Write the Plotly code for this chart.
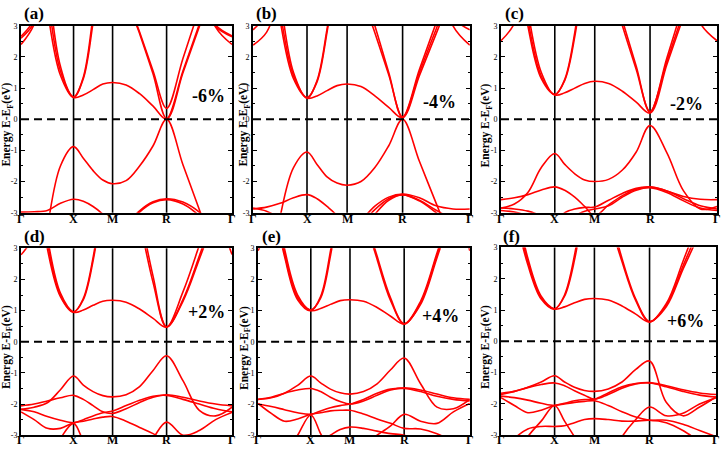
import plotly.graph_objects as go

# ---------------- data ----------------
K_LABELS = ["Γ", "X", "M", "R", "Γ"]
K_NODES = [0.0, 0.249, 0.434, 0.69, 1.0]
Y_TICKS = [-3, -2, -1, 0, 1, 2, 3]
Y_TICK_LABELS = ["-3", "-2", "-1", "0", "1", "2", "3"]
PANEL_LABELS = ["(a)", "(b)", "(c)", "(d)", "(e)", "(f)"]
STRAIN_LABELS = ["-6%", "-4%", "-2%", "+2%", "+4%", "+6%"]
Y_TITLE = "Energy E-E<sub>F</sub>(eV)"

# energies sampled at 5 points per path segment (Γ-X, X-M, M-R, R-Γ), 17 per band
BANDS_A = [
    [14, 9.0, 4.7, 1.7, 0.7, 0.78, 0.95, 1.13, 1.18, 1.1, 0.82, 0.42, 0.0, 1.49, 2.97, 4.46, 5.94],
    [12, 7.1, 3.55, 1.41, 0.7, 1.35, 3.3, 5.5, 7, 4.0, 2.8, 1.55, 0.35, 1.95, 3.55, 5.15, 6.75],
    [13, 8, 4.1, 1.55, 0.72, 1.3, 3.1, 5.3, 7, 4.0, 2.75, 1.45, 0.02, 1.55, 3.05, 4.5, 6.0],
    [2.4, 3.05, 5, 8, 10, 10, 10, 10, 10, 10, 10, 10, 10, 7.4, 4.6, 2.96, 2.4],
    [2.6, 3.1, 4.6, 7, 10, 10, 10, 10, 10, 10, 10, 10, 10, 6, 3.95, 2.98, 2.65],
    [2.66, 3.2, 4.8, 7, 10, 10, 10, 10, 10, 10, 10, 10, 10, 6, 4.0, 3.02, 2.68],
    [-8, -6.5, -3.5, -1.5, -0.88, -1.25, -1.65, -1.95, -2.07, -1.97, -1.5, -0.85, 0.0, -1.46, -2.9, -4.4, -5.8],
    [-2.98, -2.97, -2.93, -2.7, -2.57, -2.63, -2.8, -3.05, -3.4, -3.6, -3.6, -3.6, -3.6, -3.6, -3.6, -3.6, -3.6],
    [-4, -4, -4, -4, -4, -4, -4, -4, -4.1, -3.42, -2.94, -2.65, -2.55, -2.66, -2.98, -3.5, -4.25],
    [-4, -4, -4, -4, -4, -4, -4, -4, -4.2, -3.5, -2.98, -2.68, -2.58, -2.72, -3.1, -3.7, -4.4],
]
BANDS_B = [
    [12, 7, 3.5, 1.4, 0.68, 0.75, 0.92, 1.08, 1.13, 1.05, 0.75, 0.38, 0.05, 1.4, 2.75, 4.1, 5.5],
    [13, 8, 4.0, 1.5, 0.68, 1.24, 2.9, 5.0, 7, 4.1, 2.78, 1.43, 0.08, 1.6, 3.1, 4.6, 6.2],
    [11, 6.5, 3.2, 1.3, 0.7, 1.2, 2.8, 5.0, 7, 4.4, 3.0, 1.5, 0.05, 1.5, 2.9, 4.3, 5.8],
    [2.38, 2.79, 4.0, 6, 9, 9, 9, 9, 9, 9, 9, 9, 9, 7, 4.85, 3.0, 2.38],
    [2.87, 3.37, 4.5, 6.5, 9, 9, 9, 9, 9, 9, 9, 9, 9, 6, 4.3, 3.25, 2.87],
    [-8, -5.8, -3.15, -1.55, -1.05, -1.45, -1.85, -2.05, -2.12, -2.0, -1.55, -0.85, 0.0, -1.35, -2.7, -4.05, -5.4],
    [-2.88, -2.82, -2.7, -2.52, -2.42, -2.55, -2.8, -3.1, -3.6, -3.25, -2.79, -2.5, -2.4, -2.52, -2.78, -2.88, -2.88],
    [-2.85, -2.95, -3.2, -3.6, -4, -4, -4, -4, -4, -3.4, -2.9, -2.55, -2.42, -2.6, -2.92, -3.2, -3.3],
    [-4, -4, -4, -4, -4, -4, -4, -4, -4, -3.6, -3.05, -2.6, -2.43, -2.62, -3.0, -3.4, -3.5],
]
BANDS_C = [
    [10, 6.2, 3.2, 1.38, 0.78, 0.85, 1.0, 1.15, 1.22, 1.15, 0.9, 0.55, 0.2, 1.75, 3.3, 4.85, 6.4],
    [11, 6.8, 3.5, 1.5, 0.78, 1.28, 2.78, 5.3, 7.5, 4.7, 3.18, 1.7, 0.22, 1.96, 3.7, 5.4, 7.2],
    [9.5, 6, 3.0, 1.3, 0.8, 1.25, 2.65, 5.0, 7.5, 4.5, 3.0, 1.6, 0.25, 1.85, 3.45, 5.05, 6.65],
    [2.52, 3.08, 4.8, 7.6, 10, 10, 10, 10, 10, 10, 10, 10, 10, 7.6, 4.8, 3.08, 2.52],
    [-2.85, -2.72, -2.35, -1.55, -1.1, -1.45, -1.75, -1.95, -2.0, -1.93, -1.63, -1.05, -0.2, -1.07, -2.3, -2.88, -2.8],
    [-2.58, -2.52, -2.42, -2.27, -2.17, -2.28, -2.5, -2.8, -3.1, -2.75, -2.45, -2.25, -2.17, -2.3, -2.48, -2.57, -2.58],
    [-2.85, -2.88, -2.95, -3.1, -3.3, -3.0, -2.88, -2.83, -2.82, -2.6, -2.38, -2.22, -2.18, -2.3, -2.55, -2.78, -2.88],
    [-2.93, -2.98, -3.1, -3.3, -3.5, -3.3, -3.1, -2.95, -2.88, -2.78, -2.5, -2.28, -2.2, -2.35, -2.62, -2.85, -2.93],
]
BANDS_D = [
    [10.6, 6.4, 3.37, 1.56, 0.95, 1.02, 1.17, 1.3, 1.33, 1.27, 1.05, 0.75, 0.47, 1.35, 2.75, 4.3, 6],
    [9.5, 5.8, 3.0, 1.45, 0.95, 1.39, 2.7, 4.9, 8, 6, 3.9, 1.9, 0.47, 1.6, 3.1, 4.7, 6.3],
    [10, 6.1, 3.2, 1.5, 0.96, 1.35, 2.6, 4.7, 8, 6.3, 4.2, 2.1, 0.48, 1.3, 2.65, 4.1, 5.7],
    [2.79, 3.42, 5.3, 8.4, 10.6, 10, 10, 10, 10, 10, 10, 10, 10, 10, 8, 4.5, 2.8],
    [-2.17, -2.1, -1.96, -1.54, -1.1, -1.39, -1.6, -1.73, -1.77, -1.7, -1.44, -0.92, -0.45, -1.25, -2.2, -2.38, -2.1],
    [-2.06, -2.0, -1.9, -1.8, -1.72, -1.85, -2.05, -2.25, -2.3, -2.15, -1.95, -1.78, -1.7, -1.78, -1.9, -2.0, -2.06],
    [-2.17, -2.25, -2.4, -2.52, -2.6, -2.5, -2.38, -2.28, -2.22, -2.05, -1.88, -1.75, -1.72, -1.85, -2.0, -2.15, -2.25],
    [-2.25, -2.5, -2.78, -2.78, -2.6, -2.55, -2.48, -2.42, -2.4, -2.55, -2.75, -2.95, -3.2, -3.4, -3.5, -3.5, -3.5],
    [-4.5, -4.5, -4.5, -4.5, -4.5, -4.5, -4.5, -4.5, -4.5, -4.2, -3.7, -3.1, -2.58, -3.0, -2.85, -2.5, -2.27],
    [-5, -4.4, -3.8, -3.1, -2.62, -3.2, -3.8, -4.2, -4.5, -4.5, -4.5, -4.5, -4.5, -4.5, -4.5, -4.5, -4.5],
]
BANDS_E = [
    [9.3, 5.7, 3.0, 1.5, 1.0, 1.07, 1.2, 1.32, 1.35, 1.3, 1.1, 0.82, 0.57, 1.2, 2.7, 4.3, 6.0],
    [8, 4.9, 2.75, 1.35, 1.0, 1.45, 2.9, 5.0, 7.5, 4.3, 2.75, 1.4, 0.57, 1.3, 2.85, 4.5, 6.2],
    [8.6, 5.3, 2.85, 1.42, 1.02, 1.4, 2.75, 4.8, 7.5, 4.2, 2.65, 1.32, 0.58, 1.25, 2.78, 4.4, 6.1],
    [2.92, 4, 6, 8, 9.3, 9, 9, 9, 9, 9, 9, 9, 9, 9, 8, 5, 2.92],
    [-1.85, -1.8, -1.65, -1.4, -1.1, -1.32, -1.52, -1.64, -1.68, -1.6, -1.35, -0.9, -0.52, -1.35, -2.1, -2.15, -1.85],
    [-1.85, -1.78, -1.65, -1.55, -1.5, -1.6, -1.78, -1.92, -2.0, -1.9, -1.72, -1.55, -1.48, -1.55, -1.68, -1.8, -1.85],
    [-2.0, -2.08, -2.18, -2.28, -2.33, -2.22, -2.12, -2.05, -2.0, -1.85, -1.65, -1.52, -1.5, -1.6, -1.75, -1.85, -1.9],
    [-1.98, -2.3, -2.55, -2.48, -2.33, -2.28, -2.22, -2.2, -2.2, -2.32, -2.48, -2.62, -2.78, -2.8, -2.95, -3.2, -3.4],
    [-4, -4, -4, -4, -4, -4, -4, -3.9, -3.5, -3.3, -3.0, -2.7, -2.33, -2.55, -2.62, -2.25, -1.98],
    [-5, -4.3, -3.7, -3.0, -2.35, -2.95, -3.5, -3.8, -3.9, -4, -4, -4, -4, -4, -4, -4, -4],
    [-4, -4, -4, -3.6, -3.4, -3.2, -3.0, -2.82, -2.74, -2.78, -2.87, -2.95, -3.0, -3.2, -3.5, -3.8, -4],
]
BANDS_F = [
    [7.5, 4.7, 2.66, 1.44, 1.03, 1.1, 1.23, 1.34, 1.37, 1.32, 1.13, 0.87, 0.62, 1.1, 2.3, 3.5, 5.2],
    [6.5, 4.2, 2.45, 1.35, 1.03, 1.48, 2.75, 4.9, 7.5, 4.1, 2.55, 1.3, 0.62, 1.2, 2.55, 4.0, 5.8],
    [7, 4.45, 2.55, 1.4, 1.04, 1.44, 2.6, 4.6, 7.5, 4.4, 2.65, 1.35, 0.63, 1.15, 2.4, 3.7, 5.5],
    [-1.66, -1.6, -1.47, -1.3, -1.1, -1.3, -1.47, -1.57, -1.6, -1.52, -1.3, -0.9, -0.63, -1.95, -2.38, -2.1, -1.77],
    [-1.7, -1.6, -1.48, -1.38, -1.33, -1.42, -1.58, -1.72, -1.85, -1.7, -1.5, -1.36, -1.32, -1.42, -1.55, -1.65, -1.7],
    [-1.75, -1.8, -1.88, -1.98, -2.05, -1.98, -1.9, -1.86, -1.85, -1.65, -1.45, -1.35, -1.33, -1.45, -1.6, -1.72, -1.78],
    [-1.8, -2.05, -2.28, -2.2, -2.05, -2.0, -1.95, -1.92, -1.9, -2.05, -2.25, -2.42, -2.52, -2.52, -2.65, -2.85, -3.05],
    [-4.5, -4.5, -4.5, -4.5, -4.5, -4.5, -4.5, -4.5, -4.5, -3.9, -3.05, -2.5, -2.1, -2.38, -2.3, -2.0, -1.8],
    [-3.5, -3.1, -2.8, -2.72, -2.72, -2.7, -2.6, -2.5, -2.47, -2.5, -2.55, -2.55, -2.52, -2.6, -2.85, -3.2, -3.5],
    [-4.5, -3.8, -3.05, -2.55, -2.05, -2.55, -3.05, -3.5, -4, -4.5, -4.5, -4.5, -4.5, -4.5, -4.5, -4.5, -4.5],
]
PANEL_BANDS = [BANDS_A, BANDS_B, BANDS_C, BANDS_D, BANDS_E, BANDS_F]

# ---------------- layout geometry ----------------
W, H = 725, 454
X_DOMAINS = [[0.029, 0.320], [0.349, 0.648], [0.691, 0.989],
             [0.029, 0.320], [0.356, 0.648], [0.691, 0.988]]
Y_DOMAINS = [[0.531, 0.951], [0.531, 0.951], [0.531, 0.951],
             [0.031, 0.451], [0.031, 0.451], [0.031, 0.453]]
KLABEL_Y_PX = [219, 219, 219, 445, 445, 445]
PANEL_LABEL_PX = [(34, 10), (266, 10), (514, 10), (34, 237), (271, 237), (512, 237)]
YTITLE_PX = [(7, 123), (244, 123), (486, 124), (7, 350), (245, 351), (486, 350)]
STRAIN_POS = [(0.89, 0.75), (0.86, 0.55), (0.86, 0.5), (0.88, 0.95), (0.86, 0.83), (0.856, 0.65)]

FONT = "Liberation Serif, Times New Roman, serif"

# k sample positions along path (5 per segment)
K_GRID = []
for s in range(4):
    a, b = K_NODES[s], K_NODES[s + 1]
    for j in range(4):
        K_GRID.append(a + (b - a) * j / 4)
K_GRID.append(K_NODES[-1])

fig = go.Figure()
shapes = []
annotations = []
layout = {}

for i, bands in enumerate(PANEL_BANDS):
    n = i + 1
    xa = "x" if n == 1 else f"x{n}"
    ya = "y" if n == 1 else f"y{n}"
    for band in bands:
        fig.add_trace(go.Scatter(
            x=K_GRID, y=band, mode="lines",
            line=dict(color="#ff0000", width=1.6, shape="spline", smoothing=1.0),
            xaxis=xa, yaxis=ya, showlegend=False, hoverinfo="skip"))
    layout[f"xaxis{n if n > 1 else ''}"] = dict(
        domain=X_DOMAINS[i], range=[0, 1], anchor=ya, fixedrange=True,
        showgrid=False, zeroline=False, showline=True, linecolor="black",
        linewidth=2, mirror=True, ticks="", showticklabels=False)
    layout[f"yaxis{n if n > 1 else ''}"] = dict(
        domain=Y_DOMAINS[i], range=[-3, 3], anchor=xa, fixedrange=True,
        showgrid=False, zeroline=False, showline=True, linecolor="black",
        linewidth=2, mirror="ticks", ticks="inside", ticklen=4, tickwidth=1,
        tickcolor="black", tickvals=Y_TICKS, ticktext=Y_TICK_LABELS,
        tickfont=dict(family=FONT, size=8, color="black"),
        minor=dict(dtick=0.5, ticks="inside", ticklen=2, tickcolor="black", tickwidth=1))
    for k in K_NODES[1:-1]:
        shapes.append(dict(type="line", xref=xa, yref=f"{ya} domain",
                           x0=k, x1=k, y0=0, y1=1,
                           line=dict(color="black", width=1.6), layer="below"))
    shapes.append(dict(type="line", xref=f"{xa} domain", yref=ya,
                       x0=0, x1=1, y0=0, y1=0,
                       line=dict(color="black", width=2, dash="8px,5px"), layer="above"))
    # k-point labels (placed in paper coordinates along the panel's x domain)
    d0, d1 = X_DOMAINS[i]
    for k, lab in zip(K_NODES, K_LABELS):
        annotations.append(dict(text=f"<b>{lab}</b>", x=d0 + k * (d1 - d0), xref="paper",
                                y=1 - KLABEL_Y_PX[i] / H, yref="paper",
                                showarrow=False, xanchor="center", yanchor="middle",
                                font=dict(family=FONT, size=12, color="black")))
    px, py = PANEL_LABEL_PX[i]
    annotations.append(dict(text=f"<b>{PANEL_LABELS[i]}</b>", x=px / W, y=1 - py / H,
                            xref="paper", yref="paper", showarrow=False,
                            xanchor="center", yanchor="middle",
                            font=dict(family=FONT, size=17, color="black")))
    tx, ty = YTITLE_PX[i]
    annotations.append(dict(text=f"<b>{Y_TITLE}</b>", x=tx / W, y=1 - ty / H,
                            xref="paper", yref="paper", showarrow=False, textangle=-90,
                            xanchor="center", yanchor="middle",
                            font=dict(family=FONT, size=11.5, color="black")))
    sx, sy = STRAIN_POS[i]
    annotations.append(dict(text=f"<b>{STRAIN_LABELS[i]}</b>", x=sx, y=sy,
                            xref=xa, yref=ya, showarrow=False,
                            xanchor="center", yanchor="middle",
                            font=dict(family=FONT, size=18, color="black")))

fig.update_layout(
    width=W, height=H, autosize=False,
    margin=dict(l=0, r=0, t=0, b=0),
    paper_bgcolor="white", plot_bgcolor="white",
    shapes=shapes, annotations=annotations, **layout)

fig.write_html("out.html", config={"displayModeBar": False},
               post_script="document.body.style.margin='0px';")
